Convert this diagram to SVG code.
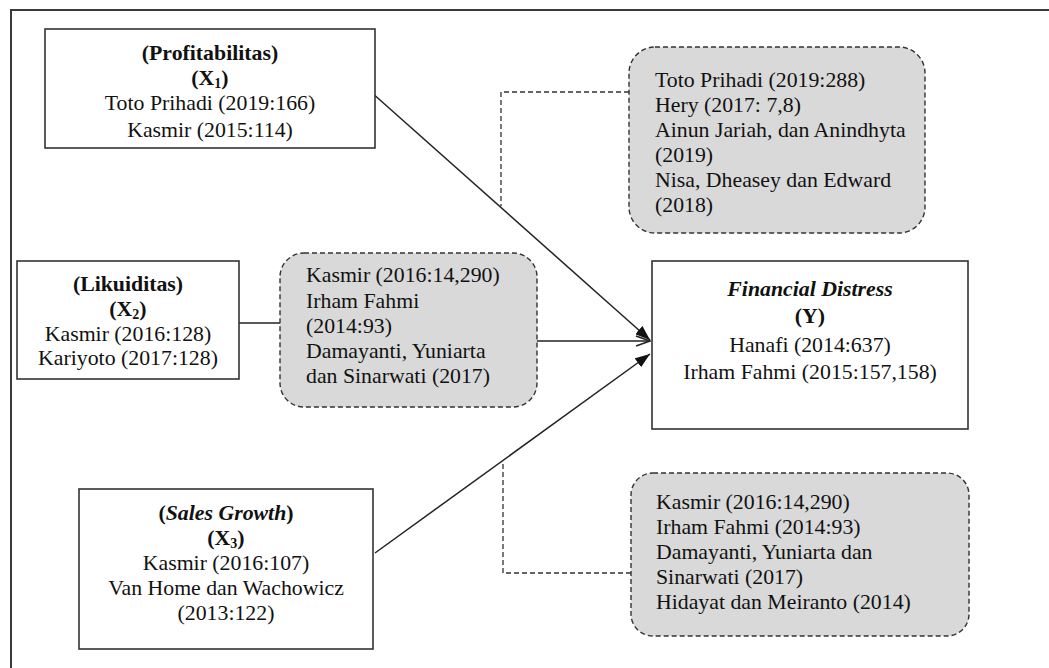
<svg xmlns="http://www.w3.org/2000/svg" width="1049" height="668" viewBox="0 0 1049 668">
<style>
  .box { fill: #ffffff; stroke: #333333; stroke-width: 1.6; }
  .gbox { fill: #d9d9d9; stroke: #333333; stroke-width: 1.4; stroke-dasharray: 5 3; }
  .frame { fill: none; stroke: #3a3a3a; stroke-width: 2; }
  .ln { fill: none; stroke: #222222; stroke-width: 1.5; }
  .dash { fill: none; stroke: #333333; stroke-width: 1.3; stroke-dasharray: 5 3; }
  text { font-family: "Liberation Serif", "Times New Roman", serif; font-size: 21.8px; fill: #111111; }
  .c { text-anchor: middle; }
  .b { font-weight: bold; }
  .i { font-style: italic; }
  .sub { font-size: 14px; }
</style>
<defs>
  <marker id="arr" markerUnits="userSpaceOnUse" markerWidth="15" markerHeight="11" refX="15" refY="5.5" orient="auto">
    <path d="M0,0 L15,5.5 L0,11 z" fill="#111111"/>
  </marker>
  <marker id="open" markerUnits="userSpaceOnUse" markerWidth="16" markerHeight="12" refX="15" refY="6" orient="auto">
    <path d="M1,1 L15,6 L1,11" fill="none" stroke="#222222" stroke-width="1.5"/>
  </marker>
</defs>

<path class="frame" d="M11,668 V10 H1049"/>

<g id="connectors">
  <line class="ln" x1="371" y1="92" x2="650" y2="340" marker-end="url(#arr)"/>
  <line class="ln" x1="537" y1="341" x2="650" y2="341" marker-end="url(#open)"/>
  <line class="ln" x1="375" y1="553" x2="650" y2="354" marker-end="url(#arr)"/>
  <line class="ln" x1="239" y1="323" x2="280" y2="323"/>
  <path class="dash" d="M629,92 H501 V206"/>
  <path class="dash" d="M631,573 H503 V462"/>
</g>

<g id="x1">
  <rect class="box" x="45" y="29" width="330" height="119"/>
  <text class="c b" x="210" y="60">(Profitabilitas)</text>
  <text class="c b" x="210" y="85">(X<tspan class="sub" dy="3">1</tspan><tspan dy="-3">)</tspan></text>
  <text class="c" x="210" y="110">Toto Prihadi (2019:166)</text>
  <text class="c" x="210" y="137">Kasmir (2015:114)</text>
</g>

<g id="x2">
  <rect class="box" x="17" y="261" width="222" height="118"/>
  <text class="c b" x="128" y="291">(Likuiditas)</text>
  <text class="c b" x="128" y="316">(X<tspan class="sub" dy="3">2</tspan><tspan dy="-3">)</tspan></text>
  <text class="c" x="128" y="341">Kasmir (2016:128)</text>
  <text class="c" x="128" y="365">Kariyoto (2017:128)</text>
</g>

<g id="x3">
  <rect class="box" x="79" y="489" width="294" height="160"/>
  <text class="c b" x="226" y="520">(<tspan class="i">Sales Growth</tspan>)</text>
  <text class="c b" x="226" y="545">(X<tspan class="sub" dy="3">3</tspan><tspan dy="-3">)</tspan></text>
  <text class="c" x="226" y="570">Kasmir (2016:107)</text>
  <text class="c" x="226" y="595">Van Home dan Wachowicz</text>
  <text class="c" x="226" y="620">(2013:122)</text>
</g>

<g id="y">
  <rect class="box" x="652" y="261" width="316" height="168"/>
  <text class="c b i" x="810" y="296">Financial Distress</text>
  <text class="c b" x="810" y="323">(Y)</text>
  <text class="c" x="810" y="352">Hanafi (2014:637)</text>
  <text class="c" x="810" y="379">Irham Fahmi (2015:157,158)</text>
</g>

<g id="ref-top">
  <rect class="gbox" x="629" y="47" width="296" height="186" rx="26" ry="26"/>
  <text x="655" y="87">Toto Prihadi (2019:288)</text>
  <text x="655" y="112">Hery (2017: 7,8)</text>
  <text x="655" y="137">Ainun Jariah, dan Anindhyta</text>
  <text x="655" y="162">(2019)</text>
  <text x="655" y="187">Nisa, Dheasey dan Edward</text>
  <text x="655" y="212">(2018)</text>
</g>

<g id="ref-mid">
  <rect class="gbox" x="280" y="253" width="257" height="154" rx="24" ry="24"/>
  <text x="306" y="282">Kasmir (2016:14,290)</text>
  <text x="306" y="308">Irham Fahmi</text>
  <text x="306" y="333">(2014:93)</text>
  <text x="306" y="358">Damayanti, Yuniarta</text>
  <text x="306" y="383">dan Sinarwati (2017)</text>
</g>

<g id="ref-bottom">
  <rect class="gbox" x="631" y="473" width="338" height="163" rx="22" ry="22"/>
  <text x="656" y="509">Kasmir (2016:14,290)</text>
  <text x="656" y="534">Irham Fahmi (2014:93)</text>
  <text x="656" y="559">Damayanti, Yuniarta dan</text>
  <text x="656" y="584">Sinarwati (2017)</text>
  <text x="656" y="609">Hidayat dan Meiranto (2014)</text>
</g>
</svg>
